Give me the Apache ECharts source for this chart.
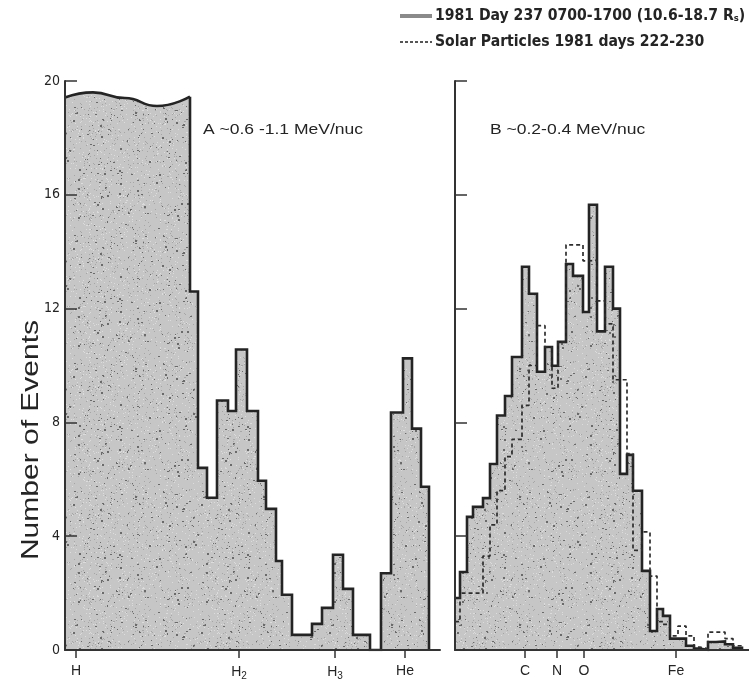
<!DOCTYPE html>
<html><head><meta charset="utf-8">
<script src="https://cdn.jsdelivr.net/npm/echarts@6/dist/echarts.min.js"></script>
<style>html,body{margin:0;padding:0;background:#fff}#c{width:749px;height:687px}</style>
</head><body><div id="c"></div>
<script>
// ---------- data (x in detector channel units, y = number of events) ----------
const yTickValues = [0, 4, 8, 12, 16, 20];

// Panel A: off-scale proton block (wavy "broken" top)
const blockX = [0, 2.8, 6.0, 9.2, 12.5];
const blockTop = [19.42, 19.6, 19.4, 19.12, 19.45];
// Panel A: histogram bins after the block
const aEdges = [12.5, 13.3, 14.2, 15.2, 16.3, 17.1, 18.2, 19.3, 20.1, 21.1, 21.7, 22.7, 24.7, 25.7, 26.8, 27.8, 28.8, 30.5, 31.6, 32.6, 33.8, 34.7, 35.6, 36.4];
const aCounts = [12.6, 6.4, 5.35, 8.77, 8.4, 10.56, 8.4, 5.95, 4.96, 3.13, 1.94, 0.53, 0.92, 1.48, 3.35, 2.15, 0.53, 0, 2.7, 8.35, 10.25, 7.78, 5.74];
const aTickPos = [1.1, 17.4, 27.0, 34.0];
const aTickNames = ['H', 'H{s|2}', 'H{s|3}', 'He'];

// Panel B
const bEdges = [0, 0.5, 1.2, 1.8, 2.8, 3.5, 4.2, 5.0, 5.7, 6.7, 7.4, 8.2, 9.0, 9.7, 10.3, 11.1, 11.8, 12.8, 13.4, 14.2, 15.0, 15.8, 16.5, 17.2, 17.8, 18.7, 19.5, 20.2, 20.8, 21.5, 22.3, 23.1, 23.9, 24.5, 25.3, 26.1, 27.0, 27.8, 28.7];
const bDay237 = [1.83, 2.74, 4.68, 5.03, 5.34, 6.54, 8.24, 8.93, 10.3, 13.47, 12.52, 9.78, 10.65, 9.99, 10.83, 13.57, 13.15, 11.88, 15.65, 11.2, 13.47, 12.0, 6.19, 6.86, 5.6, 2.78, 0.67, 1.44, 1.2, 0.4, 0.4, 0.15, 0.05, 0, 0.28, 0.3, 0.2, 0.08];
const bSolar = [1.0, 2.0, 2.0, 2.0, 3.3, 4.4, 5.6, 6.8, 7.4, 8.6, 10.0, 11.4, 10.65, 9.2, 10.83, 14.24, 14.24, 13.68, 13.7, 12.27, 11.46, 9.5, 9.5, 6.9, 3.5, 4.15, 2.6, 1.0, 0.9, 0.5, 0.84, 0.5, 0.1, 0.05, 0.63, 0.63, 0.4, 0.15];
const bTickPos = [7.0, 10.2, 12.9, 22.1];
const bTickNames = ['C', 'N', 'O', 'Fe'];

const legendNames = ['1981 Day 237 0700-1700 (10.6-18.7 R{s|s})', 'Solar Particles 1981 days 222-230'];
const panelTitles = ['A ~0.6 -1.1 MeV/nuc', 'B ~0.2-0.4 MeV/nuc'];
const yName = 'Number of Events';

// ---------- helpers ----------
function stepPoints(edges, vals, startPoint) {
  const pts = [];
  if (startPoint) pts.push(startPoint);
  for (let i = 0; i < vals.length; i++) {
    pts.push([edges[i], vals[i]]);
    pts.push([edges[i + 1], vals[i]]);
  }
  pts.push([edges[edges.length - 1], 0]);
  return pts;
}
function stipple() {
  const n = 128, c = document.createElement('canvas');
  c.width = n; c.height = n;
  const g = c.getContext('2d');
  g.fillStyle = '#c6c6c6'; g.fillRect(0, 0, n, n);
  let s = 12345;
  const rnd = () => { s = (s * 1103515245 + 12345) & 0x7fffffff; return s / 0x7fffffff; };
  for (let i = 0; i < 1400; i++) {
    const x = Math.floor(rnd() * n), y = Math.floor(rnd() * n), t = rnd();
    g.fillStyle = t < 0.15 ? '#6a6a6a' : (t < 0.55 ? '#a6a6a6' : '#dcdcdc');
    g.fillRect(x, y, t < 0.06 ? 2 : 1, t < 0.03 ? 2 : 1);
  }
  return c;
}
const pat = { image: stipple(), repeat: 'repeat' };
const SANS = '"Liberation Sans",Arial,Helvetica,sans-serif';
const COND = '"DejaVu Sans Condensed","Liberation Sans",Arial,sans-serif';
const INK = '#242424';
const rich = { s: { fontSize: 10, fontFamily: SANS, color: INK, padding: [7, 0, 0, 0] } };

const chart = echarts.init(document.getElementById('c'), null, { renderer: 'canvas' });

function xAx(idx, max, pos, names) {
  return {
    type: 'value', gridIndex: idx, min: 0, max: max, z: 10,
    splitLine: { show: false },
    axisLine: { show: true, onZero: false, lineStyle: { color: '#333', width: 2 } },
    axisTick: { show: true, customValues: pos, length: 8, lineStyle: { color: '#333', width: 1.5 } },
    axisLabel: {
      customValues: pos, margin: 14, fontSize: 14, fontFamily: SANS, color: INK, rich: rich,
      formatter: v => { const k = pos.indexOf(v); return k >= 0 ? names[k] : ''; }
    }
  };
}
function yAx(idx, showLabel) {
  return {
    type: 'value', gridIndex: idx, min: 0, max: 20, interval: 4, z: 10,
    splitLine: { show: false },
    axisLine: { show: true, lineStyle: { color: '#333', width: 2 } },
    axisTick: { show: true, inside: true, length: 12, lineStyle: { color: '#333', width: 1.5 } },
    axisLabel: { show: showLabel, fontSize: 14, fontFamily: COND, color: INK, margin: 5 }
  };
}

chart.setOption({
  animation: false,
  backgroundColor: '#fff',
  grid: [
    { left: 65, top: 81, width: 375, height: 569 },
    { left: 455, top: 81, width: 294, height: 569 }
  ],
  xAxis: [xAx(0, 37.5, aTickPos, aTickNames), xAx(1, 29.4, bTickPos, bTickNames)],
  yAxis: [yAx(0, true), yAx(1, false)],
  series: [
    {
      type: 'line', xAxisIndex: 0, yAxisIndex: 0, symbol: 'none', smooth: 0.5, smoothMonotone: 'x',
      data: blockX.map((x, i) => [x, blockTop[i]]),
      lineStyle: { color: INK, width: 2.6 }, areaStyle: { color: pat, opacity: 1 }
    },
    {
      type: 'line', xAxisIndex: 0, yAxisIndex: 0, symbol: 'none',
      data: stepPoints(aEdges, aCounts, [blockX[blockX.length - 1], blockTop[blockTop.length - 1]]),
      lineStyle: { color: INK, width: 2.6, join: 'miter' }, areaStyle: { color: pat, opacity: 1 }
    },
    {
      name: 'day237', type: 'line', xAxisIndex: 1, yAxisIndex: 1, symbol: 'none',
      data: stepPoints(bEdges, bDay237),
      lineStyle: { color: INK, width: 2.6, join: 'miter' }, areaStyle: { color: pat, opacity: 1 }
    },
    {
      name: 'solar', type: 'line', xAxisIndex: 1, yAxisIndex: 1, symbol: 'none',
      data: stepPoints(bEdges, bSolar),
      lineStyle: { color: '#2e2e2e', width: 1.7, type: [4, 3] }
    }
  ],
  graphic: [
    { type: 'line', shape: { x1: 400, y1: 16, x2: 432, y2: 16 }, style: { stroke: '#8a8a8a', lineWidth: 4 } },
    { type: 'text', x: 435, y: 16, scaleX: 1.04, style: { text: legendNames[0], fontSize: 15, fontWeight: 'bold', fontFamily: COND, fill: INK, verticalAlign: 'middle', rich: { s: { fontSize: 9, fontWeight: 'bold', fontFamily: COND, fill: INK, padding: [6, 0, 0, 0] } } } },
    { type: 'line', shape: { x1: 400, y1: 42, x2: 432, y2: 42 }, style: { stroke: '#555', lineWidth: 1.8, lineDash: [3, 2] } },
    { type: 'text', x: 435, y: 42, scaleX: 1.04, style: { text: legendNames[1], fontSize: 15, fontWeight: 'bold', fontFamily: COND, fill: INK, verticalAlign: 'middle' } },
    { type: 'text', x: 203, y: 130, scaleX: 1.25, style: { text: panelTitles[0], fontSize: 14, fontFamily: SANS, fill: INK, verticalAlign: 'middle' } },
    { type: 'text', x: 490, y: 130, scaleX: 1.25, style: { text: panelTitles[1], fontSize: 14, fontFamily: SANS, fill: INK, verticalAlign: 'middle' } },
    { type: 'text', x: 31, y: 440, rotation: Math.PI / 2, scaleX: 1.25, style: { text: yName, fontSize: 24, fontFamily: SANS, fill: INK, align: 'center', verticalAlign: 'middle' } }
  ]
});
</script>
</body></html>
